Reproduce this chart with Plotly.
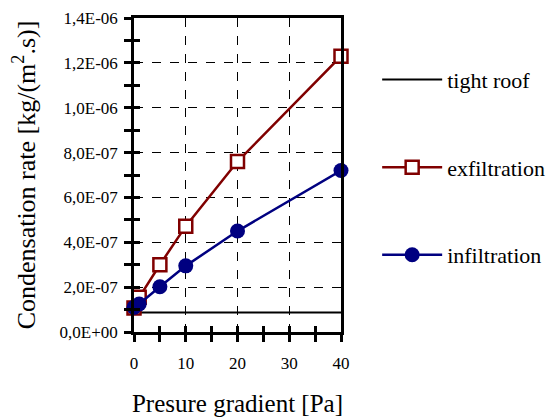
import plotly.graph_objects as go

pressure = [0, 1, 5, 10, 20, 40]
tight_roof = [8.7e-8, 8.7e-8, 8.7e-8, 8.7e-8, 8.7e-8, 8.7e-8]
exfiltration = [1.07e-7, 1.55e-7, 3.0e-7, 4.72e-7, 7.6e-7, 1.23e-6]
infiltration = [1.1e-7, 1.25e-7, 2.02e-7, 2.95e-7, 4.5e-7, 7.2e-7]

y_tickvals = [0, 2e-7, 4e-7, 6e-7, 8e-7, 1e-6, 1.2e-6, 1.4e-6]
y_ticktext = ["0,0E+00", "2,0E-07", "4,0E-07", "6,0E-07", "8,0E-07", "1,0E-06", "1,2E-06", "1,4E-06"]
x_tickvals = [0, 10, 20, 30, 40]

FONT = "Liberation Serif"
TICKS = dict(tickwidth=2.5, tickcolor="black")

fig = go.Figure()
fig.add_trace(go.Scatter(x=pressure, y=tight_roof, mode="lines", name="tight roof",
                         line=dict(color="black", width=2), legendgroup="a"))
fig.add_trace(go.Scatter(x=pressure, y=exfiltration, mode="lines+markers", name="exfiltration",
                         line=dict(color="#800000", width=2.5),
                         marker=dict(symbol="square", size=13, color="white",
                                     line=dict(color="#800000", width=2.5)),
                         cliponaxis=False, legendgroup="b"))
fig.add_trace(go.Scatter(x=pressure, y=infiltration, mode="lines+markers", name="infiltration",
                         line=dict(color="#000080", width=2.5),
                         marker=dict(symbol="circle", size=15, color="#000080"),
                         cliponaxis=False, legendgroup="c"))
# invisible trace on overlay axes that carry the inner half of the crossing ticks
fig.add_trace(go.Scatter(x=pressure, y=tight_roof, xaxis="x2", yaxis="y2", mode="lines",
                         line=dict(width=0, color="rgba(0,0,0,0)"), showlegend=False, hoverinfo="skip"))

fig.update_layout(
    template="none",
    width=549, height=417, autosize=False,
    margin=dict(l=134, r=208, t=18, b=85, autoexpand=False),
    paper_bgcolor="white", plot_bgcolor="white",
    font=dict(family=FONT, color="black", size=17),
    showlegend=True,
    legend=dict(xref="container", yref="container", x=0.687, y=0.859, xanchor="left", yanchor="top",
                font=dict(size=22, family=FONT, color="black"), tracegroupgap=56, itemwidth=60,
                maxheight=1.0, bgcolor="rgba(0,0,0,0)", borderwidth=0),
    xaxis=dict(range=[0, 40], tickvals=x_tickvals, ticks="outside", ticklen=7, **TICKS,
               showline=True, linewidth=2.5, linecolor="black", mirror=True,
               showgrid=True, gridcolor="black", griddash="dash", gridwidth=1,
               zeroline=False, tickfont=dict(size=17, family=FONT, color="black"), automargin=False,
               ticklabelstandoff=7,
               minor=dict(dtick=5, ticks="outside", ticklen=7, **TICKS),
               title=dict(text="Presure gradient [Pa]", font=dict(size=25, family=FONT, color="black"),
                          standoff=23)),
    yaxis=dict(range=[0, 1.4e-6], tickvals=y_tickvals, ticktext=y_ticktext, ticks="outside",
               ticklen=7, **TICKS, showline=True, linewidth=2.5,
               linecolor="black", mirror=True, showgrid=True, gridcolor="black", griddash="dash",
               gridwidth=1, zeroline=False, tickfont=dict(size=17, family=FONT, color="black"),
               automargin=False, ticklabelstandoff=3,
               minor=dict(dtick=1e-7, tick0=0, ticks="outside", ticklen=7, **TICKS),
               title=dict(text="Condensation rate [kg/(m<sup>2</sup>.s)]",
                          font=dict(size=26, family=FONT, color="black"), standoff=17)),
    xaxis2=dict(overlaying="x", anchor="y2", side="bottom", range=[0, 40], tickvals=x_tickvals,
                ticks="inside", ticklen=6, **TICKS, showticklabels=False,
                showgrid=False, zeroline=False, showline=False, automargin=False,
                minor=dict(dtick=5, ticks="inside", ticklen=6, **TICKS)),
    yaxis2=dict(overlaying="y", anchor="x2", side="left", range=[0, 1.4e-6], tickvals=y_tickvals,
                ticks="inside", ticklen=6, **TICKS, showticklabels=False,
                showgrid=False, zeroline=False, showline=False, automargin=False,
                minor=dict(dtick=1e-7, tick0=0, ticks="inside", ticklen=6, **TICKS)),
)

fig.write_html("out.html", config={"displayModeBar": False},
               post_script="document.body.style.margin='0';document.body.style.overflow='hidden';")
